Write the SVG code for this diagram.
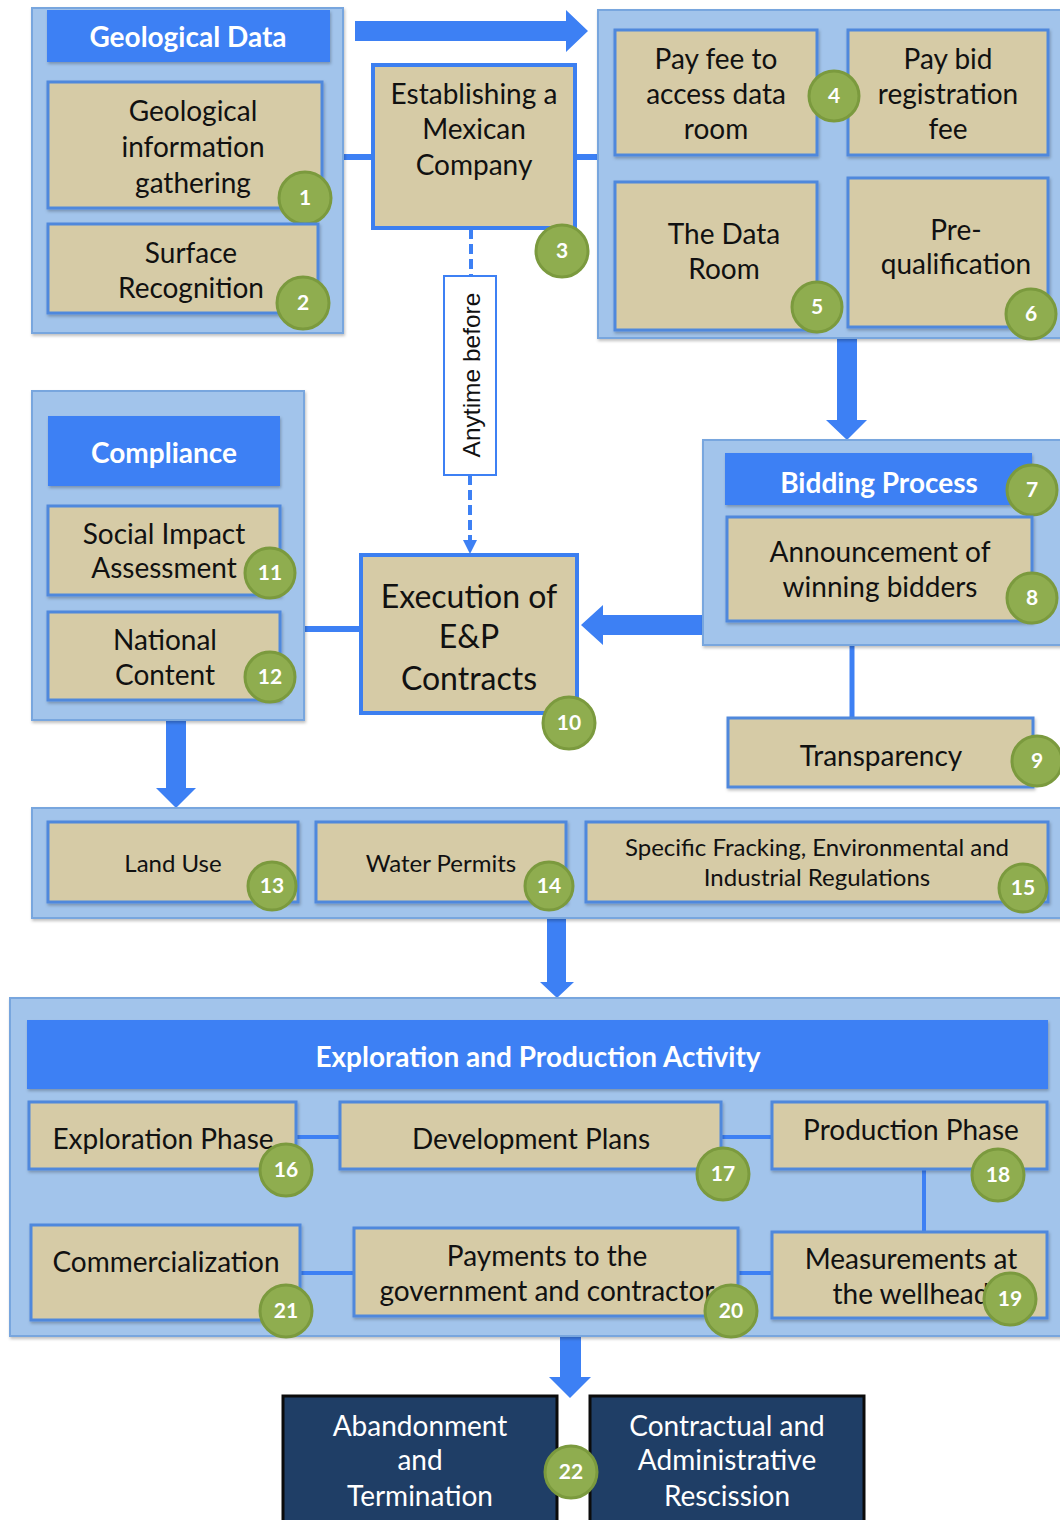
<svg xmlns="http://www.w3.org/2000/svg" width="1060" height="1520" viewBox="0 0 1060 1520">
<defs>
<style>
.cont{fill:#a2c4eb;stroke:#78a6de;stroke-width:2}
.hdr{fill:#3d80f4}
.box{fill:#d6cba6;stroke:#4f88dc;stroke-width:3}
.box2{fill:#d6cba6;stroke:#3c7ff0;stroke-width:4}
.dark{fill:#1f3e66;stroke:#0b0b0b;stroke-width:3}
.badge{fill:#8fad4f;stroke:#7b9a3e;stroke-width:3}
.num{font-family:Lato,"Liberation Sans",sans-serif;font-weight:bold;font-size:21px;fill:#ffffff;text-anchor:middle}
.t{font-family:Lato,"Liberation Sans",sans-serif;font-size:28px;fill:#111111;text-anchor:middle}
.ts{font-family:Lato,"Liberation Sans",sans-serif;font-size:24px;fill:#111111;text-anchor:middle}
.tx{font-family:Lato,"Liberation Sans",sans-serif;font-size:32px;fill:#111111;text-anchor:middle}
.th{font-family:Lato,"Liberation Sans",sans-serif;font-weight:bold;font-size:28px;fill:#ffffff;text-anchor:middle}
.tw{font-family:Lato,"Liberation Sans",sans-serif;font-size:28px;fill:#ffffff;text-anchor:middle}
.ta{font-family:"Liberation Sans",Arial,sans-serif;font-size:24.5px;fill:#111111;text-anchor:middle}
.fa{fill:#3d80f4}
.ln{stroke:#3d80f4;fill:none}
</style>
<filter id="sh" x="-5%" y="-5%" width="110%" height="115%">
<feDropShadow dx="1" dy="2" stdDeviation="1.5" flood-color="#000" flood-opacity="0.25"/>
</filter>
</defs>
<rect width="1060" height="1520" fill="#ffffff"/>

<!-- connectors -->
<g id="connectors">
<polygon class="fa" points="355,21 566,21 566,10 588,31 566,52 566,41 355,41"/>
<line class="ln" x1="342" y1="157" x2="373" y2="157" stroke-width="6"/>
<line class="ln" x1="575" y1="157" x2="598" y2="157" stroke-width="6"/>
<polygon class="fa" points="837,338 857,338 857,420 867,420 847,440 826,420 837,420"/>
<polygon class="fa" points="702,615 603,615 603,605 581,625 603,645 603,635 702,635"/>
<line class="ln" x1="852" y1="645" x2="852" y2="718" stroke-width="5"/>
<line class="ln" x1="303" y1="629" x2="361" y2="629" stroke-width="6"/>
<line class="ln" x1="471" y1="229" x2="471" y2="276" stroke-width="4" stroke-dasharray="10,5"/>
<line class="ln" x1="470" y1="475" x2="470" y2="542" stroke-width="4" stroke-dasharray="10,5"/>
<polygon class="fa" points="463,540 477,540 470,554"/>
<polygon class="fa" points="166,719 186,719 186,788 196,788 176,808 156,788 166,788"/>
<polygon class="fa" points="547,917 566,917 566,982 574,982 557,998 540,982 547,982"/>
<polygon class="fa" points="560,1336 581,1336 581,1377 591,1377 570,1398 549,1377 560,1377"/>
</g>

<!-- Geological Data -->
<g id="geological-data">
<rect class="cont" x="32" y="8" width="311" height="325" filter="url(#sh)"/>
<rect class="hdr" x="47" y="10" width="283" height="52" filter="url(#sh)"/>
<text class="th" x="188" y="47">Geological Data</text>
</g>
<g id="n1">
<rect class="box" x="48" y="82" width="274" height="126" filter="url(#sh)"/>
<text class="t" x="193" y="121">Geological</text>
<text class="t" x="193" y="157">information</text>
<text class="t" x="193" y="193">gathering</text>
<circle class="badge" cx="305" cy="198" r="26"/><text class="num" x="305" y="205">1</text>
</g>
<g id="n2">
<rect class="box" x="48" y="224" width="270" height="89" filter="url(#sh)"/>
<text class="t" x="191" y="263">Surface</text>
<text class="t" x="191" y="298">Recognition</text>
<circle class="badge" cx="303" cy="303" r="26"/><text class="num" x="303" y="310">2</text>
</g>

<!-- Establishing -->
<g id="n3">
<rect class="box2" x="373" y="65" width="202" height="163"/>
<text class="t" x="474" y="104">Establishing a</text>
<text class="t" x="474" y="139">Mexican</text>
<text class="t" x="474" y="175">Company</text>
<circle class="badge" cx="562" cy="251" r="26"/><text class="num" x="562" y="258">3</text>
</g>

<g id="anytime-label">
<rect x="444" y="276" width="52" height="199" fill="#ffffff" stroke="#3d80f4" stroke-width="2"/>
<text class="ta" x="0" y="0" transform="translate(480,375) rotate(-90)">Anytime before</text>
</g>

<!-- Data room container -->
<g id="data-room-group">
<rect class="cont" x="598" y="10" width="470" height="328" filter="url(#sh)"/>
</g>
<g id="n4a">
<rect class="box" x="615" y="30" width="202" height="125" filter="url(#sh)"/>
<text class="t" x="716" y="69">Pay fee to</text>
<text class="t" x="716" y="104">access data</text>
<text class="t" x="716" y="139">room</text>
</g>
<g id="n4b">
<rect class="box" x="848" y="30" width="200" height="125" filter="url(#sh)"/>
<text class="t" x="948" y="69">Pay bid</text>
<text class="t" x="948" y="104">registration</text>
<text class="t" x="948" y="139">fee</text>
<circle class="badge" cx="834" cy="96" r="25"/><text class="num" x="834" y="103">4</text>
</g>
<g id="n5">
<rect class="box" x="615" y="182" width="202" height="148" filter="url(#sh)"/>
<text class="t" x="724" y="244">The Data</text>
<text class="t" x="724" y="279">Room</text>
<circle class="badge" cx="817" cy="307" r="25"/><text class="num" x="817" y="314">5</text>
</g>
<g id="n6">
<rect class="box" x="848" y="178" width="200" height="149" filter="url(#sh)"/>
<text class="t" x="956" y="240">Pre-</text>
<text class="t" x="956" y="274">qualification</text>
<circle class="badge" cx="1031" cy="314" r="25"/><text class="num" x="1031" y="321">6</text>
</g>

<!-- Bidding process -->
<g id="n7">
<rect class="cont" x="703" y="440" width="365" height="205" filter="url(#sh)"/>
<rect class="hdr" x="725" y="453" width="307" height="52" filter="url(#sh)"/>
<text class="th" x="879" y="493">Bidding Process</text>
<circle class="badge" cx="1032" cy="490" r="25"/><text class="num" x="1032" y="497">7</text>
</g>
<g id="n8">
<rect class="box" x="727" y="517" width="305" height="104" filter="url(#sh)"/>
<text class="t" x="880" y="562">Announcement of</text>
<text class="t" x="880" y="597">winning bidders</text>
<circle class="badge" cx="1032" cy="598" r="25"/><text class="num" x="1032" y="605">8</text>
</g>
<g id="n9">
<rect class="box" x="728" y="718" width="305" height="69" filter="url(#sh)"/>
<text class="t" x="881" y="766">Transparency</text>
<circle class="badge" cx="1037" cy="761" r="25"/><text class="num" x="1037" y="768">9</text>
</g>

<!-- Execution -->
<g id="n10">
<rect class="box2" x="361" y="555" width="216" height="158"/>
<text class="tx" x="469" y="608">Execution of</text>
<text class="tx" x="469" y="648">E&amp;P</text>
<text class="tx" x="469" y="690">Contracts</text>
<circle class="badge" cx="569" cy="723" r="26"/><text class="num" x="569" y="730">10</text>
</g>

<!-- Compliance -->
<g id="compliance">
<rect class="cont" x="32" y="391" width="272" height="329" filter="url(#sh)"/>
<rect class="hdr" x="48" y="416" width="232" height="70" filter="url(#sh)"/>
<text class="th" x="164" y="463">Compliance</text>
</g>
<g id="n11">
<rect class="box" x="48" y="506" width="232" height="89" filter="url(#sh)"/>
<text class="t" x="164" y="544">Social Impact</text>
<text class="t" x="164" y="578">Assessment</text>
<circle class="badge" cx="270" cy="573" r="25"/><text class="num" x="270" y="580">11</text>
</g>
<g id="n12">
<rect class="box" x="48" y="612" width="232" height="88" filter="url(#sh)"/>
<text class="t" x="165" y="650">National</text>
<text class="t" x="165" y="685">Content</text>
<circle class="badge" cx="270" cy="677" r="25"/><text class="num" x="270" y="684">12</text>
</g>

<!-- Permits row -->
<g id="permits">
<rect class="cont" x="32" y="808" width="1036" height="110" filter="url(#sh)"/>
</g>
<g id="n13">
<rect class="box" x="48" y="822" width="250" height="80" filter="url(#sh)"/>
<text class="ts" x="173" y="872">Land Use</text>
<circle class="badge" cx="272" cy="886" r="24"/><text class="num" x="272" y="893">13</text>
</g>
<g id="n14">
<rect class="box" x="316" y="822" width="250" height="80" filter="url(#sh)"/>
<text class="ts" x="441" y="872">Water Permits</text>
<circle class="badge" cx="549" cy="886" r="24"/><text class="num" x="549" y="893">14</text>
</g>
<g id="n15">
<rect class="box" x="586" y="822" width="462" height="80" filter="url(#sh)"/>
<text class="ts" x="817" y="856">Specific Fracking, Environmental and</text>
<text class="ts" x="817" y="886">Industrial Regulations</text>
<circle class="badge" cx="1023" cy="888" r="24"/><text class="num" x="1023" y="895">15</text>
</g>

<!-- E&P -->
<g id="ep-activity">
<rect class="cont" x="10" y="998" width="1058" height="338" filter="url(#sh)"/>
<rect class="hdr" x="27" y="1020" width="1021" height="69" filter="url(#sh)"/>
<text class="th" x="538" y="1067">Exploration and Production Activity</text>
<line class="ln" x1="296" y1="1137" x2="340" y2="1137" stroke-width="4"/>
<line class="ln" x1="721" y1="1137" x2="772" y2="1137" stroke-width="4"/>
<line class="ln" x1="924" y1="1169" x2="924" y2="1232" stroke-width="4"/>
<line class="ln" x1="738" y1="1273" x2="772" y2="1273" stroke-width="4"/>
<line class="ln" x1="300" y1="1273" x2="354" y2="1273" stroke-width="4"/>
</g>
<g id="n16">
<rect class="box" x="29" y="1102" width="267" height="67" filter="url(#sh)"/>
<text class="t" x="163" y="1149">Exploration Phase</text>
<circle class="badge" cx="286" cy="1170" r="26"/><text class="num" x="286" y="1177">16</text>
</g>
<g id="n17">
<rect class="box" x="340" y="1102" width="381" height="67" filter="url(#sh)"/>
<text class="t" x="531" y="1149">Development Plans</text>
<circle class="badge" cx="723" cy="1174" r="26"/><text class="num" x="723" y="1181">17</text>
</g>
<g id="n18">
<rect class="box" x="772" y="1102" width="275" height="67" filter="url(#sh)"/>
<text class="t" x="911" y="1140">Production Phase</text>
<circle class="badge" cx="998" cy="1175" r="26"/><text class="num" x="998" y="1182">18</text>
</g>
<g id="n21">
<rect class="box" x="31" y="1225" width="269" height="95" filter="url(#sh)"/>
<text class="t" x="166" y="1272">Commercialization</text>
<circle class="badge" cx="286" cy="1311" r="26"/><text class="num" x="286" y="1318">21</text>
</g>
<g id="n20">
<rect class="box" x="354" y="1228" width="384" height="88" filter="url(#sh)"/>
<text class="t" x="547" y="1266">Payments to the</text>
<text class="t" x="547" y="1301">government and contractor</text>
<circle class="badge" cx="731" cy="1311" r="26"/><text class="num" x="731" y="1318">20</text>
</g>
<g id="n19">
<rect class="box" x="772" y="1232" width="275" height="86" filter="url(#sh)"/>
<text class="t" x="911" y="1269">Measurements at</text>
<text class="t" x="911" y="1304">the wellhead</text>
<circle class="badge" cx="1010" cy="1299" r="26"/><text class="num" x="1010" y="1306">19</text>
</g>

<!-- Final -->
<g id="n22a">
<rect class="dark" x="283" y="1396" width="274" height="140"/>
<text class="tw" x="420" y="1436">Abandonment</text>
<text class="tw" x="420" y="1470">and</text>
<text class="tw" x="420" y="1506">Termination</text>
</g>
<g id="n22b">
<rect class="dark" x="590" y="1396" width="274" height="140"/>
<text class="tw" x="727" y="1436">Contractual and</text>
<text class="tw" x="727" y="1470">Administrative</text>
<text class="tw" x="727" y="1506">Rescission</text>
</g>
<g id="n22">
<circle class="badge" cx="571" cy="1472" r="26"/><text class="num" x="571" y="1479">22</text>
</g>
</svg>
